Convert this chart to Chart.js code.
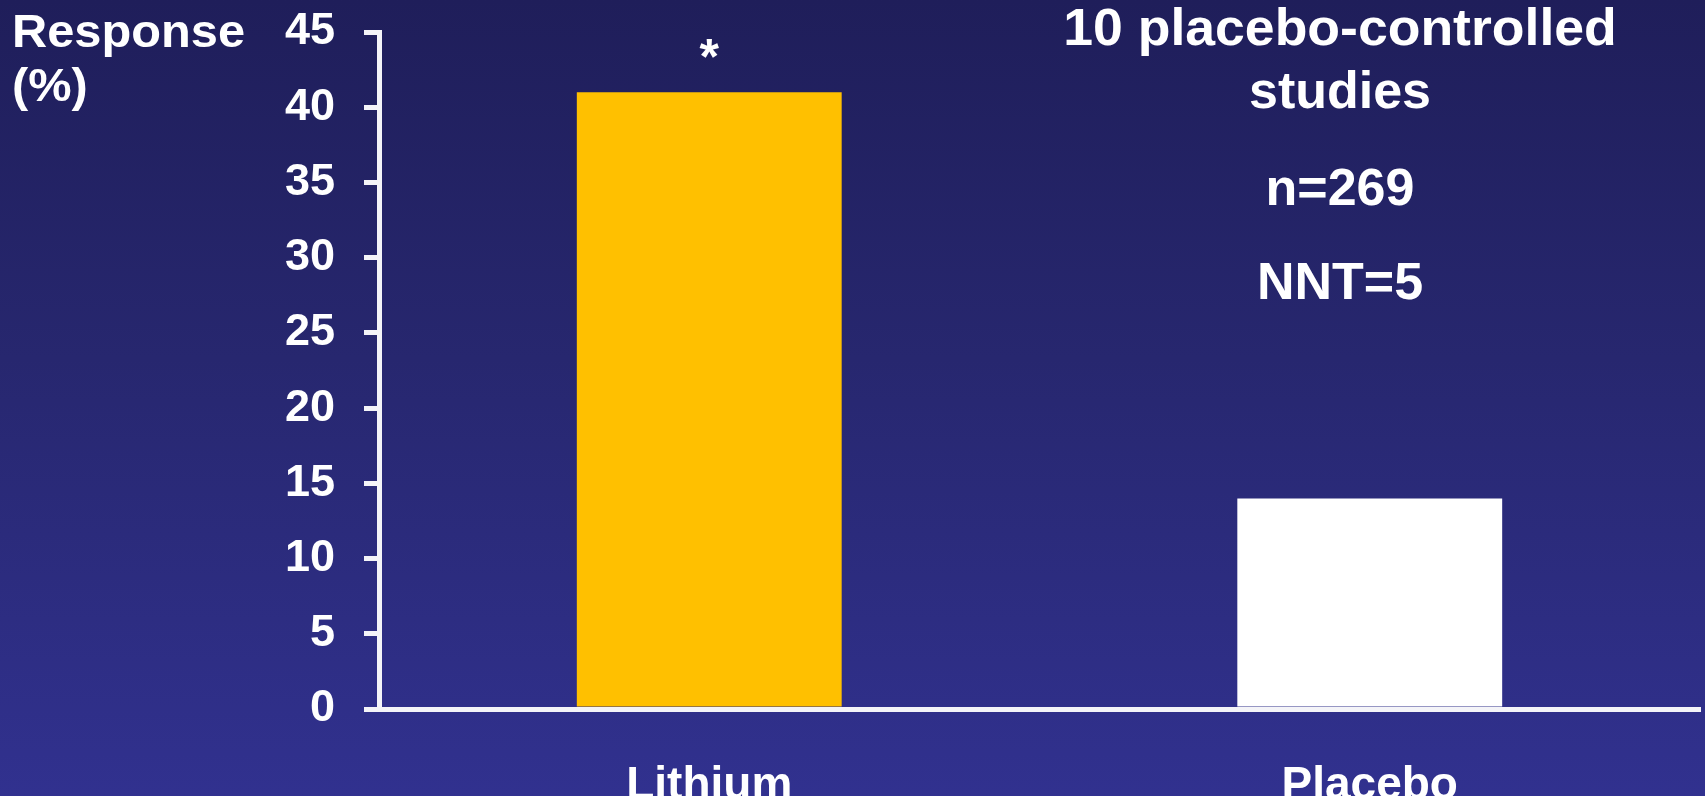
<!DOCTYPE html>
<html>
<head>
<meta charset="utf-8">
<script src="https://cdn.jsdelivr.net/npm/chart.js@4/dist/chart.umd.min.js"></script>
<style>
  html, body { margin: 0; padding: 0; }
  body { width: 1705px; height: 796px; overflow: hidden;
         background: linear-gradient(to bottom, #1f1e5a 0%, #27276f 45%, #31318f 100%); }
  canvas { display: block; }
</style>
</head>
<body>
<canvas id="c" width="1705" height="796"></canvas>
<script>
const categories = ['Lithium', 'Placebo'];
const responsePct = [41, 14];
const yTicks = { min: 0, max: 45, step: 5 };
const significance = ['*', ''];
const axisTitleLines = ['Response', '(%)'];
const noteLines = ['10 placebo-controlled', 'studies', 'n=269', 'NNT=5'];

const FONT = '"Liberation Sans", Arial, sans-serif';

function wideText(ctx, text, x, y, sx) {
  ctx.save();
  ctx.translate(x, y);
  ctx.scale(sx, 1);
  ctx.fillText(text, 0, 0);
  ctx.restore();
}

const textPlugin = {
  id: 'texts',
  afterDraw(chart) {
    const ctx = chart.ctx;
    const y = chart.scales.y;
    const meta = chart.getDatasetMeta(0);
    ctx.save();
    ctx.fillStyle = '#ffffff';
    // axis title
    ctx.font = 'bold 46px ' + FONT;
    ctx.textAlign = 'left';
    ctx.textBaseline = 'alphabetic';
    wideText(ctx, axisTitleLines[0], 12, 47, 1.06);
    wideText(ctx, axisTitleLines[1], 12, 101, 1.06);
    // notes on the right
    ctx.textAlign = 'center';
    ctx.font = 'bold 52px ' + FONT;
    const cx = 1340;
    const baselines = [45, 108, 205, 299];
    noteLines.forEach((t, i) => wideText(ctx, t, cx, baselines[i], i === 0 ? 1.03 : 1.0));
    // significance markers above bars
    ctx.font = 'bold 50px ' + FONT;
    meta.data.forEach((bar, i) => {
      if (significance[i]) ctx.fillText(significance[i], bar.x, y.getPixelForValue(responsePct[i]) - 18);
    });
    ctx.restore();
  }
};

new Chart(document.getElementById('c'), {
  type: 'bar',
  data: {
    labels: categories,
    datasets: [{
      data: responsePct,
      backgroundColor: ['#FFC000', '#FFFFFF'],
      borderWidth: 0,
      barPercentage: 0.401,
      categoryPercentage: 1.0
    }]
  },
  options: {
    responsive: false,
    animation: false,
    events: [],
    layout: { padding: { left: 0, right: 5, top: 32, bottom: 0 } },
    plugins: { legend: { display: false }, tooltip: { enabled: false }, title: { display: false } },
    scales: {
      x: {
        grid: { display: false },
        border: { display: true, color: '#f4f4f8', width: 5 },
        ticks: { color: '#ffffff', font: { family: FONT, size: 46, weight: 'bold' }, padding: 42 },
        afterFit: s => { s.height = 87; s.paddingLeft = 0; s.paddingRight = 0; }
      },
      y: {
        min: yTicks.min, max: yTicks.max,
        grid: { display: true, drawOnChartArea: false, drawTicks: true, tickLength: 15, tickWidth: 5, tickColor: '#f4f4f8', lineWidth: 5 },
        border: { display: true, color: '#f4f4f8', width: 5 },
        ticks: { stepSize: yTicks.step, color: '#ffffff', font: { family: FONT, size: 45, weight: 'bold' }, padding: 29 },
        afterFit: s => { s.width = 379; s.paddingTop = 0; s.paddingBottom = 0; }
      }
    }
  },
  plugins: [textPlugin]
});
</script>
</body>
</html>
